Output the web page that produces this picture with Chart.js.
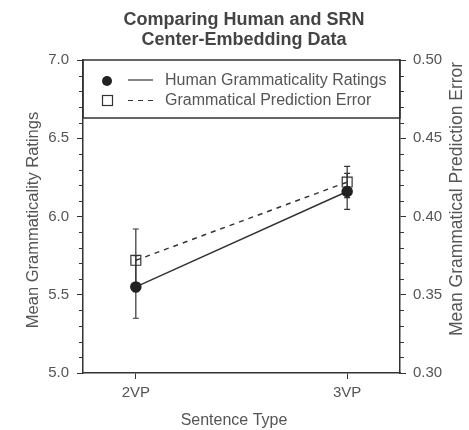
<!DOCTYPE html>
<html>
<head>
<meta charset="utf-8">
<script src="https://cdn.jsdelivr.net/npm/chart.js@4.4.0/dist/chart.umd.min.js"></script>
<style>
  html, body { margin: 0; padding: 0; background: #fff; }
  #wrap { width: 469px; height: 430px; }
</style>
</head>
<body>
<div id="wrap"><canvas id="myChart" width="469" height="430"></canvas></div>
<script>
//chart data
const categories = ["2VP", "3VP"];
const humanRatings = [5.55, 6.16];
const humanErrors = [0.2, 0.115];
const predictionError = [0.372, 0.422];
const predictionErrorBars = [0.02, 0.01];
const leftTicks = [5.0, 5.5, 6.0, 6.5, 7.0];
const rightTicks = [0.30, 0.35, 0.40, 0.45, 0.50];
const titleLines = ["Comparing Human and SRN", "Center-Embedding Data"];
const legendLabels = ["Human Grammaticality Ratings", "Grammatical Prediction Error"];

const ink = "#333";
const textInk = "#555";
const fontFamily = "'Liberation Sans', Arial, Helvetica, sans-serif";

//error bars are drawn through the chart's own scales
const errorBars = {
  id: "errorBars",
  beforeDatasetsDraw(chart) {
    const ctx = chart.ctx;
    const x = chart.scales.x;
    const sets = [
      { scale: chart.scales.y, values: humanRatings, errs: humanErrors },
      { scale: chart.scales.y2, values: predictionError, errs: predictionErrorBars },
    ];
    ctx.save();
    ctx.strokeStyle = ink;
    ctx.lineWidth = 1.2;
    for (let s of sets) {
      s.values.forEach((v, i) => {
        let px = x.getPixelForValue(i);
        let top = s.scale.getPixelForValue(v + s.errs[i]);
        let bot = s.scale.getPixelForValue(v - s.errs[i]);
        ctx.beginPath();
        ctx.moveTo(px, top);
        ctx.lineTo(px, bot);
        ctx.moveTo(px - 3, top);
        ctx.lineTo(px + 3, top);
        ctx.moveTo(px - 3, bot);
        ctx.lineTo(px + 3, bot);
        ctx.stroke();
      });
    }
    ctx.restore();
  },
};

//minor ticks, titles and the boxed legend
const decorations = {
  id: "decorations",
  afterDraw(chart) {
    const ctx = chart.ctx;
    const area = chart.chartArea;
    const y = chart.scales.y;
    ctx.save();
    ctx.strokeStyle = ink;
    ctx.lineWidth = 1;
    for (let k = 0; k <= 20; k++) {
      if (k % 5 === 0) continue;
      let py = Math.round(y.getPixelForValue(y.min + k * 0.1)) + 0.5;
      ctx.beginPath();
      ctx.moveTo(area.left - 4, py);
      ctx.lineTo(area.left, py);
      ctx.moveTo(area.right, py);
      ctx.lineTo(area.right + 4, py);
      ctx.stroke();
    }

    //title
    ctx.fillStyle = "#444";
    ctx.textAlign = "center";
    ctx.textBaseline = "middle";
    ctx.font = "bold 18px " + fontFamily;
    ctx.fillText(titleLines[0], 244, 20);
    ctx.fillText(titleLines[1], 244, 40);

    //axis titles
    ctx.fillStyle = textInk;
    ctx.font = "16px " + fontFamily;
    ctx.fillText("Sentence Type", 234, 421);
    ctx.save();
    ctx.translate(33, 220);
    ctx.rotate(-Math.PI / 2);
    ctx.font = "16.5px " + fontFamily;
    ctx.fillText("Mean Grammaticality Ratings", 0, 0);
    ctx.restore();
    ctx.save();
    ctx.translate(457, 199);
    ctx.rotate(-Math.PI / 2);
    ctx.font = "17.5px " + fontFamily;
    ctx.fillText("Mean Grammatical Prediction Error", 0, 0);
    ctx.restore();

    //legend box
    ctx.strokeStyle = ink;
    ctx.lineWidth = 1.5;
    ctx.strokeRect(area.left, area.top, area.right - area.left, 58);
    ctx.fillStyle = "#222";
    ctx.beginPath();
    ctx.arc(107, 81, 5, 0, Math.PI * 2);
    ctx.fill();
    ctx.lineWidth = 1.2;
    ctx.strokeRect(102.5, 95.5, 10, 10);
    ctx.beginPath();
    ctx.moveTo(128, 80);
    ctx.lineTo(153, 80);
    ctx.stroke();
    ctx.setLineDash([5, 5]);
    ctx.beginPath();
    ctx.moveTo(128, 100.5);
    ctx.lineTo(154, 100.5);
    ctx.stroke();
    ctx.setLineDash([]);
    ctx.fillStyle = textInk;
    ctx.textAlign = "left";
    ctx.font = "16px " + fontFamily;
    ctx.fillText(legendLabels[0], 165, 81);
    ctx.fillText(legendLabels[1], 165, 101);
    ctx.restore();
  },
};

const ctx = document.getElementById("myChart");

new Chart(ctx, {
  type: "line",
  data: {
    datasets: [
      {
        label: legendLabels[0],
        data: humanRatings.map((v, i) => ({ x: i, y: v })),
        yAxisID: "y",
        borderColor: ink,
        borderWidth: 1.5,
        pointStyle: "circle",
        pointRadius: 5,
        pointBackgroundColor: "#222",
        pointBorderColor: "#222",
      },
      {
        label: legendLabels[1],
        data: predictionError.map((v, i) => ({ x: i, y: v })),
        yAxisID: "y2",
        borderColor: ink,
        borderWidth: 1.5,
        borderDash: [5, 5],
        pointStyle: "rect",
        pointRadius: 7,
        pointBorderWidth: 1.2,
        pointBackgroundColor: "rgba(255,255,255,0)",
        pointBorderColor: ink,
      },
    ],
  },
  options: {
    responsive: false,
    animation: false,
    devicePixelRatio: 1,
    layout: { padding: { top: 60 } },
    plugins: {
      legend: { display: false },
      title: { display: false },
      tooltip: { enabled: false },
    },
    scales: {
      x: {
        type: "linear",
        min: -0.25,
        max: 1.25,
        afterBuildTicks: (scale) => {
          scale.ticks = categories.map((c, i) => ({ value: i }));
        },
        afterFit: (scale) => {
          scale.height = 57;
        },
        ticks: {
          callback: (v) => categories[v],
          color: textInk,
          font: { family: fontFamily, size: 15 },
          padding: 5,
          maxRotation: 0,
        },
        grid: { drawOnChartArea: false, tickLength: 6, color: ink },
        border: { color: ink, width: 1.5 },
      },
      y: {
        position: "left",
        min: 5,
        max: 7,
        afterBuildTicks: (scale) => {
          scale.ticks = leftTicks.map((v) => ({ value: v }));
        },
        afterFit: (scale) => {
          scale.width = 83;
        },
        ticks: {
          callback: (v) => v.toFixed(1),
          color: textInk,
          font: { family: fontFamily, size: 15 },
          padding: 8,
        },
        grid: { drawOnChartArea: false, tickLength: 6, color: ink },
        border: { color: ink, width: 1.5 },
      },
      y2: {
        position: "right",
        min: 0.3,
        max: 0.5,
        afterBuildTicks: (scale) => {
          scale.ticks = rightTicks.map((v) => ({ value: v }));
        },
        afterFit: (scale) => {
          scale.width = 69;
        },
        ticks: {
          callback: (v) => v.toFixed(2),
          color: textInk,
          font: { family: fontFamily, size: 15 },
          padding: 7,
        },
        grid: { drawOnChartArea: false, tickLength: 6, color: ink },
        border: { color: ink, width: 1.5 },
      },
    },
  },
  plugins: [errorBars, decorations],
});
</script>
</body>
</html>
